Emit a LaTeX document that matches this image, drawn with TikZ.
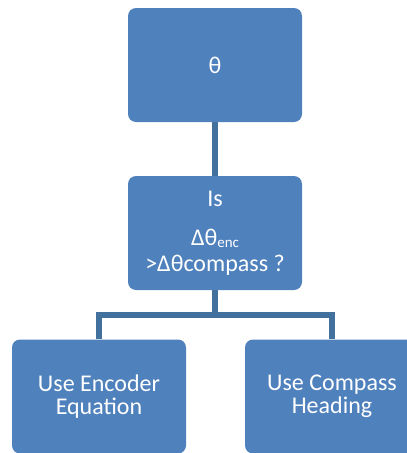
\documentclass[tikz,border=0pt]{standalone}
\usepackage{fontspec}
\setmainfont{Carlito}
\definecolor{boxblue}{HTML}{4F81BD}
\definecolor{lineblue}{HTML}{41719C}
\begin{document}
\begin{tikzpicture}[x=1pt,y=-1pt,
    block/.style={rectangle,rounded corners=8pt,fill=boxblue,text=white,
      minimum width=174pt,minimum height=114pt,align=center,
      font=\fontsize{24}{23}\selectfont},
    link/.style={draw=lineblue,line width=6pt}]
  \useasboundingbox (0,0) rectangle (407,453);

        \node[block] (1) at (215,65)  {θ};
        \node[block] (2) at (215,233) {Is\\[16pt]Δθ\raisebox{-2pt}{\fontsize{15}{15}\selectfont enc}\\[3pt]>Δθcompass ?};
        \node[block] (3) at (99,396.5)  {Use Encoder\\Equation};
        \node[block] (4) at (332,396.5) {Use Compass\\Heading};
        \coordinate (5) at (215,315);

        \path[link] (1) -- (2);
        \path[link] (2) -- (5);
        \path[link] (5) -| (3);
        \path[link] (5) -| (4);

\end{tikzpicture}
\end{document}
